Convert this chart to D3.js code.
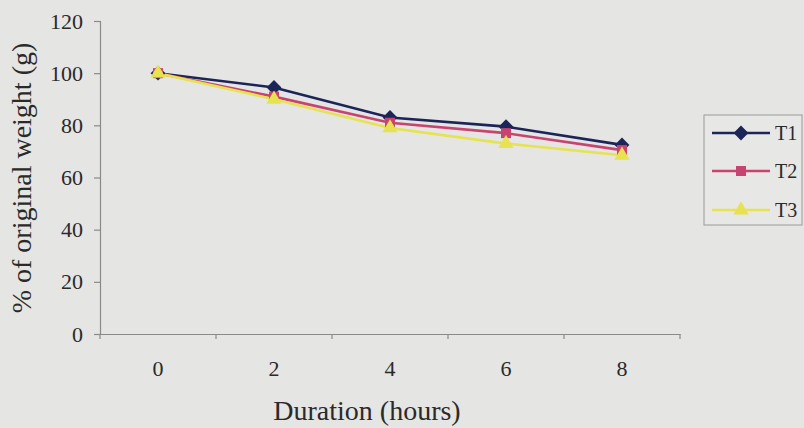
<!DOCTYPE html>
<html>
<head>
<meta charset="utf-8">
<script src="https://cdn.jsdelivr.net/npm/d3@7"></script>
<style>
  html, body { margin: 0; padding: 0; background: #e5e5e3; }
  svg { display: block; }
</style>
</head>
<body>
<svg id="chart" width="804" height="428"></svg>
<script>
// Durations (hours) and weight retained per treatment
const durations = ["0", "2", "4", "6", "8"];
const t1 = [100, 94.5, 83, 79.5, 72.5];
const t2 = [100, 91, 81, 77, 70.5];
const t3 = [100, 90, 79, 73, 68.5];
const yTicks = [0, 20, 40, 60, 80, 100, 120];

const FONT = "'Liberation Serif', 'Times New Roman', serif";
const INK = "#2a2a2a";

// square rotated 45 degrees, as used for the T1 marker
const diamond = { draw(ctx, size) { const r = Math.sqrt(size / 2); ctx.moveTo(0, -r); ctx.lineTo(r, 0); ctx.lineTo(0, r); ctx.lineTo(-r, 0); ctx.closePath(); } };

const series = [
  { name: "T1", values: t1, color: "#1c2558", marker: diamond, size: 110 },
  { name: "T2", values: t2, color: "#c84470", marker: d3.symbolSquare, size: 100 },
  { name: "T3", values: t3, color: "#e6e250", marker: d3.symbolTriangle, size: 100 }
];

const svg = d3.select("#chart");
const margin = { left: 100, top: 21, right: 680, bottom: 334 };

const x = d3.scaleBand().domain(durations).range([margin.left, margin.right]);
const y = d3.scaleLinear().domain([0, 120]).range([margin.bottom, margin.top]);

svg.append("rect").attr("width", 804).attr("height", 428).attr("fill", "#e5e5e3");

// Y axis
const yAxis = svg.append("g")
  .attr("transform", `translate(${margin.left},0)`)
  .call(d3.axisLeft(y).tickValues(yTicks).tickSize(6).tickPadding(11));
yAxis.selectAll("text")
  .attr("font-family", FONT).attr("font-size", 22).attr("fill", INK);

// X axis with ticks at category boundaries
const xAxis = svg.append("g")
  .attr("transform", `translate(0,${margin.bottom})`)
  .call(d3.axisBottom(x).tickSize(0).tickPadding(26));
xAxis.selectAll("text")
  .attr("font-family", FONT).attr("font-size", 22).attr("fill", INK);
const bounds = durations.map(d => x(d)).concat([x.range()[1]]);
xAxis.selectAll(".bound").data(bounds).enter().append("line")
  .attr("class", "bound")
  .attr("x1", d => d).attr("x2", d => d)
  .attr("y1", 0).attr("y2", 5);

svg.selectAll(".domain, .tick line, .bound").attr("stroke", "#8a8a8a").attr("stroke-width", 1.2);

// Axis titles
svg.append("text")
  .attr("transform", "translate(31,178) rotate(-90)")
  .attr("text-anchor", "middle")
  .attr("font-family", FONT).attr("font-size", 28).attr("fill", INK)
  .text("% of original weight (g)");
svg.append("text")
  .attr("x", 367).attr("y", 420)
  .attr("text-anchor", "middle")
  .attr("font-family", FONT).attr("font-size", 28).attr("fill", INK)
  .text("Duration (hours)");

// Lines and markers
const cx = d => x(d) + x.bandwidth() / 2;
const line = d3.line().x((v, i) => cx(durations[i])).y(v => y(v));

series.forEach(s => {
  svg.append("path")
    .attr("d", line(s.values))
    .attr("fill", "none")
    .attr("stroke", s.color)
    .attr("stroke-width", 2.6);
});
series.forEach(s => {
  svg.selectAll(null).data(s.values).enter().append("path")
    .attr("d", d3.symbol().type(s.marker).size(s.size))
    .attr("transform", (v, i) => `translate(${cx(durations[i])},${y(v)})`)
    .attr("fill", s.color);
});

// Legend
const legend = svg.append("g");
legend.append("rect")
  .attr("x", 704).attr("y", 115).attr("width", 98).attr("height", 110)
  .attr("fill", "#e7e7e5").attr("stroke", "#9a9a9a").attr("stroke-width", 1);
const legendY = [133, 171, 210];
series.forEach((s, i) => {
  const g = legend.append("g").attr("transform", `translate(0,${legendY[i]})`);
  g.append("line").attr("x1", 712).attr("x2", 770).attr("y1", 0).attr("y2", 0)
    .attr("stroke", s.color).attr("stroke-width", 2.6);
  g.append("path").attr("d", d3.symbol().type(s.marker).size(s.size))
    .attr("transform", "translate(741,0)").attr("fill", s.color);
  g.append("text").attr("x", 775).attr("y", 7)
    .attr("font-family", FONT).attr("font-size", 20).attr("fill", INK)
    .text(s.name);
});
</script>
</body>
</html>
